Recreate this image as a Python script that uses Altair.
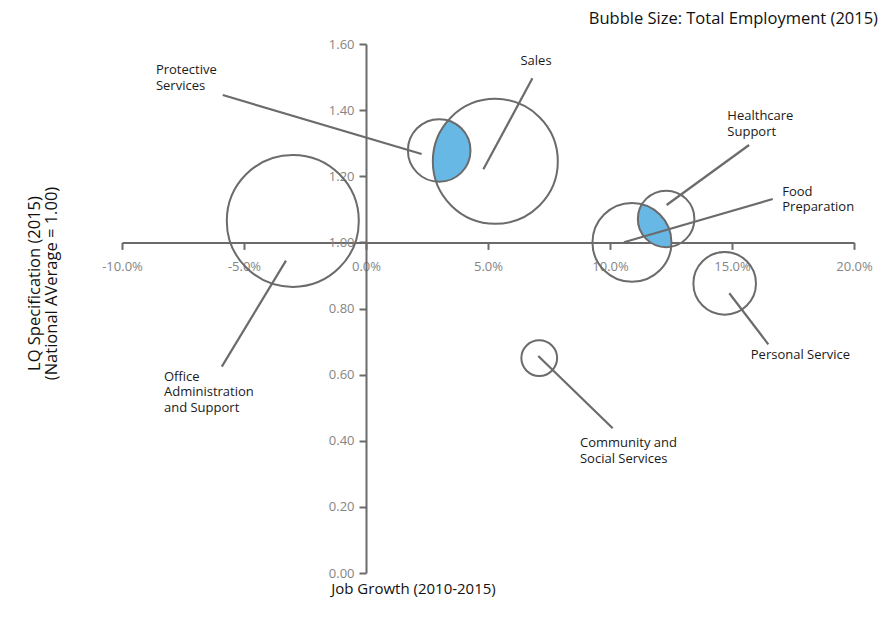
import math
import altair as alt
import pandas as pd

# ---- data ----
categories = ["Office Administration and Support", "Protective Services", "Sales",
              "Community and Social Services", "Food Preparation", "Healthcare Support",
              "Personal Service"]
job_growth = [-0.030, 0.030, 0.053, 0.071, 0.109, 0.123, 0.147]   # 2010-2015
lq_2015 = [1.065, 1.278, 1.245, 0.650, 1.000, 1.071, 0.876]
employment = [43600, 9800, 39100, 3200, 15600, 8000, 9800]

# label text (multi-line) and where each annotation sits (data units)
label_text = ["Office\nAdministration\nand Support", "Protective\nServices", "Sales",
              "Community and\nSocial Services", "Food\nPreparation", "Healthcare\nSupport",
              "Personal Service"]
label_x = [-0.0828, -0.0861, 0.0633, 0.0877, 0.1706, 0.1481, 0.1577]
label_y = [0.5816, 1.5083, 1.535, 0.3802, 1.1403, 1.3701, 0.6463]
# leader lines: label end -> bubble end
lead_x1 = [-0.0591, -0.0587, 0.0682, 0.1011, 0.1667, 0.1570, 0.1649]
lead_y1 = [0.6240, 1.4457, 1.4962, 0.4377, 1.1311, 1.2945, 0.6917]
lead_x2 = [-0.0328, 0.0228, 0.0481, 0.0706, 0.1057, 0.1232, 0.1489]
lead_y2 = [0.9446, 1.2673, 1.2210, 0.6563, 1.0002, 1.1130, 0.8460]

# overlapping bubble pairs whose intersection is highlighted
overlap_pairs = [("Protective Services", "Sales"), ("Healthcare Support", "Food Preparation")]

x_ticks = [-0.10, -0.05, 0.0, 0.05, 0.10, 0.15, 0.20]
y_ticks = [0.0, 0.2, 0.4, 0.6, 0.8, 1.0, 1.2, 1.4, 1.6]

# ---- layout ----
W, H = 732, 529
XMIN, XMAX = -0.10, 0.20
YMIN, YMAX = 0.0, 1.6
SIZE_MAX = 132 ** 2
EMP_MAX = max(employment)

bubbles = pd.DataFrame({"name": categories, "x": job_growth, "y": lq_2015, "emp": employment})
labels = pd.DataFrame({"label": label_text, "x": label_x, "y": label_y})
leaders = pd.DataFrame({"x": lead_x1, "y": lead_y1, "x2": lead_x2, "y2": lead_y2})


# intersection lens of two bubbles, computed in pixel space of the scales
def px_x(v):
    return (v - XMIN) / (XMAX - XMIN) * W


def px_y(v):
    return (YMAX - v) / (YMAX - YMIN) * H


def circ(name):
    i = categories.index(name)
    r = math.sqrt(employment[i] / EMP_MAX * SIZE_MAX) / 2
    return px_x(job_growth[i]), px_y(lq_2015[i]), r


rows = []
for a, b in overlap_pairs:
    (ax, ay, ar), (bx, by, br) = circ(a), circ(b)
    lo, hi = max(ax - ar, bx - br), min(ax + ar, bx + br)
    n = 400
    for k in range(n + 1):
        p = lo + (hi - lo) * k / n
        ha = math.sqrt(max(ar ** 2 - (p - ax) ** 2, 0))
        hb = math.sqrt(max(br ** 2 - (p - bx) ** 2, 0))
        top = max(ay - ha, by - hb)
        bot = min(ay + ha, by + hb)
        if top <= bot:
            rows.append({"pair": a, "x": XMIN + p / W * (XMAX - XMIN),
                         "y": YMAX - top / H * (YMAX - YMIN),
                         "y2": YMAX - bot / H * (YMAX - YMIN)})
lens = pd.DataFrame(rows)

AX = "#6b6b6b"
FONT = "Open Sans"

x_off = -(H - px_y(1.0))
y_off = -px_x(0.0)

xaxis = alt.Axis(values=x_ticks, format=".1%", orient="bottom", offset=x_off,
                 labelExpr="replace(datum.label, '\u2212', '-')",
                 grid=False, domainColor=AX, domainWidth=2, tickColor=AX, tickWidth=2,
                 tickSize=7, labelColor="#858585", labelFontSize=13, labelPadding=11,
                 labelFont=FONT, title="Job Growth (2010-2015)", titleFont=FONT,
                 titleFontSize=15, titleFontWeight="normal", titleColor="#111",
                 titleX=291, titleY=346, titleBaseline="middle", labelFlush=False)

yaxis = alt.Axis(values=y_ticks, format=".2f", orient="left", offset=y_off,
                 grid=False, domainColor=AX, domainWidth=2, tickColor=AX, tickWidth=2,
                 tickSize=7, labelColor="#858585", labelFontSize=13, labelPadding=5,
                 labelFont=FONT, title=["LQ Specification (2015)", "(National AVerage = 1.00)"],
                 titleFont=FONT, titleFontSize=16.5, titleFontWeight="normal", titleColor="#111",
                 titleX=-332, titleY=239, titleBaseline="middle", titleLineHeight=17)

xs = alt.Scale(domain=[XMIN, XMAX], nice=False, zero=False)
ys = alt.Scale(domain=[YMIN, YMAX], nice=False, zero=False)
X = alt.X("x:Q", scale=xs, axis=xaxis)
Y = alt.Y("y:Q", scale=ys, axis=yaxis)

lens_layer = alt.Chart(lens).mark_area(color="#68b8e5", opacity=1, interpolate="linear").encode(
    x=X, y=Y, y2="y2:Q", detail="pair:N")

circle_layer = alt.Chart(bubbles).mark_point(shape="circle", filled=False, color=AX,
                                             strokeWidth=2, opacity=1).encode(
    x=X, y=Y,
    size=alt.Size("emp:Q", scale=alt.Scale(domain=[0, EMP_MAX], range=[0, SIZE_MAX], zero=True),
                  legend=None))

rule_layer = alt.Chart(leaders).mark_rule(color=AX, strokeWidth=2.2).encode(
    x=X, y=Y, x2="x2:Q", y2="y2:Q")

text_layer = alt.Chart(labels).mark_text(align="left", baseline="alphabetic", lineBreak="\n",
                                         lineHeight=15.5, font=FONT, fontSize=13,
                                         color="#1a1a1a").encode(
    x=X, y=Y, text="label:N")

chart = alt.layer(lens_layer, circle_layer, rule_layer, text_layer).properties(
    width=W, height=H,
    padding={"left": 114, "top": 36, "right": 30, "bottom": 40},
    autosize=alt.AutoSizeParams(type="none"),
    title=alt.TitleParams("Bubble Size: Total Employment (2015)", anchor="end", frame="group",
                          dx=24, offset=11, fontSize=16.5, fontWeight="normal", font=FONT,
                          color="#111"),
).configure_view(stroke=None)

chart.save("out.html", embed_options={"renderer": "svg", "actions": False})
